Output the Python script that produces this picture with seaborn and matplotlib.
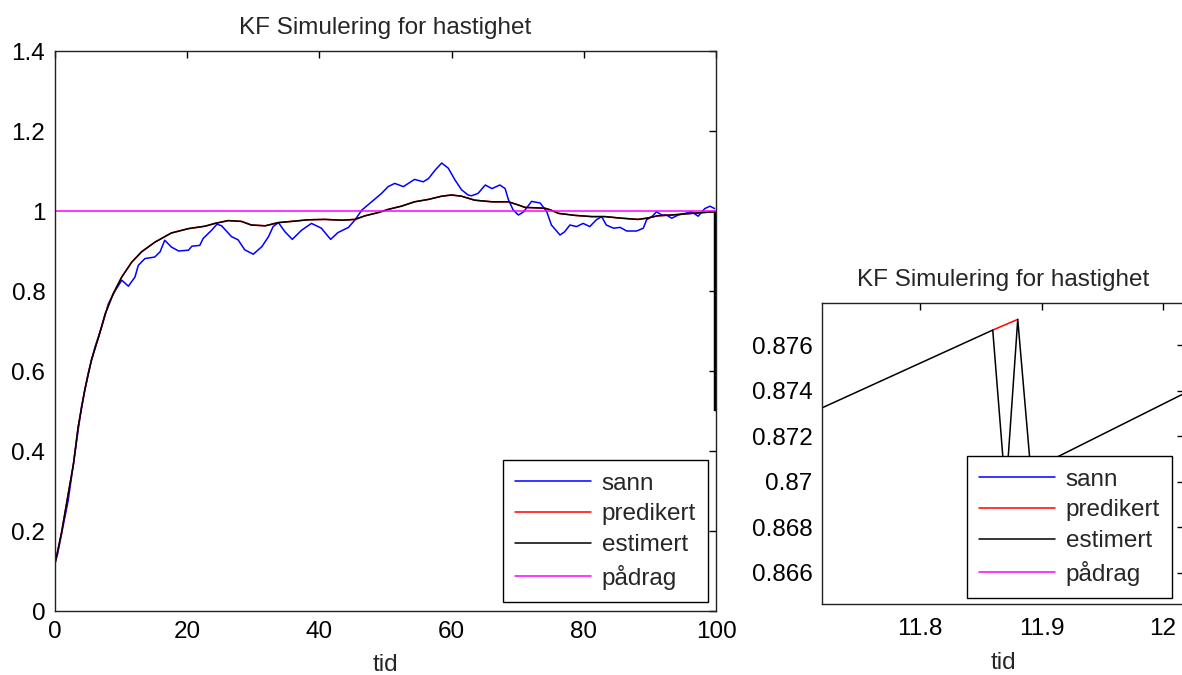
import numpy as np
import pandas as pd
import matplotlib
matplotlib.use("Agg")
import matplotlib.pyplot as plt
import seaborn as sns

# ---------------- data ----------------
# true velocity (sann)
t_sann = [0.0, 0.4, 2.0, 3.0, 4.0, 5.0, 6.05, 7.06, 8.07, 9.08, 10.1, 11.1, 12.1, 12.6,
          13.6, 15.1, 15.9, 16.6, 17.6, 18.7, 20.2, 20.7, 21.9, 22.4, 23.7, 24.5, 25.2,
          26.7, 27.7, 28.7, 30.0, 31.3, 32.3, 33.0, 33.8, 34.8, 35.9, 37.3, 38.8, 40.3,
          41.7, 42.8, 44.4, 45.4, 46.4, 47.9, 49.4, 50.4, 51.4, 52.7, 54.4, 55.7, 56.5,
          57.5, 58.5, 59.5, 60.5, 61.5, 62.5, 63.0, 64.0, 65.1, 66.1, 67.3, 68.1, 68.6,
          69.3, 70.1, 70.9, 72.1, 73.4, 74.4, 75.1, 76.4, 77.1, 77.9, 78.9, 79.9, 80.9,
          81.9, 82.7, 83.4, 84.5, 85.5, 86.5, 88.0, 89.0, 89.5, 90.3, 91.0, 91.8, 92.5,
          93.3, 94.3, 95.3, 96.3, 97.3, 98.3, 99.1, 99.8]
v_sann = [0.12, 0.143, 0.277, 0.393, 0.51, 0.593, 0.66, 0.71, 0.768, 0.80, 0.827, 0.812,
          0.835, 0.864, 0.881, 0.885, 0.898, 0.927, 0.91, 0.90, 0.902, 0.912, 0.914, 0.931,
          0.952, 0.967, 0.963, 0.936, 0.928, 0.903, 0.892, 0.911, 0.936, 0.961, 0.971,
          0.948, 0.929, 0.952, 0.969, 0.957, 0.929, 0.946, 0.959, 0.978, 1.002, 1.023,
          1.044, 1.061, 1.069, 1.061, 1.079, 1.073, 1.081, 1.102, 1.12, 1.107, 1.078,
          1.053, 1.040, 1.038, 1.044, 1.065, 1.056, 1.065, 1.056, 1.028, 1.003, 0.99,
          0.998, 1.024, 1.02, 0.998, 0.965, 0.940, 0.948, 0.965, 0.961, 0.969, 0.961,
          0.978, 0.986, 0.965, 0.957, 0.959, 0.95, 0.95, 0.957, 0.978, 0.986, 0.998,
          0.99, 0.99, 0.982, 0.99, 0.994, 0.998, 0.987, 1.006, 1.012, 1.006]

# estimated velocity (estimert)
t_est = [0.0, 1.0, 2.0, 2.8, 3.5, 4.5, 5.5, 6.6, 7.6, 8.8, 10.1, 11.6, 13.1, 15.1, 17.6,
         20.2, 22.7, 24.2, 26.2, 28.2, 29.7, 31.8, 33.8, 35.8, 38.3, 40.8, 43.4, 45.4,
         46.9, 48.9, 50.4, 52.4, 54.4, 56.5, 58.5, 60.0, 61.5, 63.5, 66.1, 68.6, 70.1,
         71.1, 74.1, 74.9, 76.2, 78.7, 81.2, 83.2, 85.7, 88.2, 89.5, 91.2, 93.3, 96.3,
         99.6, 100.0, 100.0]
v_est = [0.118, 0.197, 0.293, 0.368, 0.46, 0.552, 0.627, 0.685, 0.743, 0.793, 0.835,
         0.872, 0.898, 0.922, 0.945, 0.956, 0.962, 0.969, 0.976, 0.974, 0.965, 0.963,
         0.971, 0.974, 0.978, 0.979, 0.977, 0.979, 0.988, 0.996, 1.004, 1.012, 1.023,
         1.029, 1.037, 1.040, 1.037, 1.027, 1.023, 1.023, 1.015, 1.009, 1.007, 1.003,
         0.994, 0.989, 0.986, 0.986, 0.982, 0.979, 0.982, 0.988, 0.990, 0.994, 0.998,
         0.998, 0.50]

# predicted velocity (predikert) - almost identical to the estimate at full scale
t_pred = t_est[:-1]
v_pred = v_est[:-1]

# control input (pådrag)
t_u = [0.0, 100.0]
v_u = [1.0, 1.0]

# zoomed view around t = 11.8 - 12
t_est_z = [11.719, 11.8597, 11.8704, 11.8803, 11.891, 12.0173]
v_est_z = [0.87324, 0.87666, 0.8695, 0.87713, 0.8705, 0.87387]
t_pred_z = [11.8597, 11.8803]
v_pred_z = [0.87666, 0.87713]

labels = ["sann", "predikert", "estimert", "pådrag"]
colors = ["#0000ff", "#ff0000", "#000000", "#ff00ff"]

# ---------------- styling ----------------
sns.set_style("white")
plt.rcParams["font.family"] = ["Liberation Sans", "DejaVu Sans"]
plt.rcParams["axes.edgecolor"] = "black"
plt.rcParams["axes.linewidth"] = 1.0

fig = plt.figure(figsize=(11.82, 6.75), dpi=100)
ax1 = fig.add_axes([55 / 1182, (675 - 611) / 675, 661 / 1182, 560 / 675])
ax2 = fig.add_axes([822 / 1182, (675 - 604) / 675, 362 / 1182, 301 / 675])

def draw(ax, series, widths):
    for (t, v), lab, col, lw in zip(series, labels, colors, widths):
        if t is None:
            ax.plot([], [], color=col, lw=1.1, label=lab)
            continue
        sns.lineplot(x=t, y=v, ax=ax, color=col, lw=lw, label=lab,
                     estimator=None, sort=False)

draw(ax1, [(t_sann, v_sann), (t_pred, v_pred), (t_est, v_est), (t_u, v_u)],
     [1.2, 0.6, 1.3, 1.2])
draw(ax2, [(None, None), (t_pred_z, v_pred_z), (t_est_z, v_est_z), (None, None)],
     [1.1, 1.1, 1.1, 1.1])
# the final drop of the estimate is over-drawn (thick) in the reference
ax1.plot(t_est[-2:], v_est[-2:], color="black", lw=3.2, solid_capstyle="butt")

fs = 17.5
for ax in (ax1, ax2):
    ax.tick_params(direction="in", top=True, right=True, length=5, width=1,
                   labelsize=fs, colors="black", pad=7)
    ax.set_title("KF Simulering for hastighet", fontsize=17.5, pad=12)
    ax.set_ylabel("")
    for s in ax.spines.values():
        s.set_color("#222222")
ax1.set_xlabel("tid", fontsize=fs, labelpad=8)
ax2.set_xlabel("tid", fontsize=fs, labelpad=9)

ax1.set_xlim(0, 100)
ax1.set_ylim(0, 1.4)
ax1.set_xticks([0, 20, 40, 60, 80, 100])
ax1.set_yticks([0, 0.2, 0.4, 0.6, 0.8, 1, 1.2, 1.4])
ax1.set_yticklabels(["0", "0.2", "0.4", "0.6", "0.8", "1", "1.2", "1.4"])

ax2.set_xlim(11.719, 12.0173)
ax2.set_ylim(0.86462, 0.87785)
ax2.set_xticks([11.8, 11.9, 12.0])
ax2.set_xticklabels(["11.8", "11.9", "12"])
ax2.set_yticks([0.866, 0.868, 0.870, 0.872, 0.874, 0.876])
ax2.set_yticklabels(["0.866", "0.868", "0.87", "0.872", "0.874", "0.876"])
ax2.tick_params(axis="x", pad=10)

leg_kw = dict(fontsize=fs, handlelength=3.15, frameon=True, fancybox=False,
              edgecolor="black", framealpha=1, borderpad=0.5, labelspacing=0.36,
              handletextpad=0.42, borderaxespad=0.0)
h1, l1 = ax1.get_legend_handles_labels()
h1, l1 = h1[:4], l1[:4]
for h in h1:
    h.set_linewidth(1.1)
ax1.legend(h1, l1, loc="lower right",
           bbox_to_anchor=(708 / 1182, (675 - 602) / 675),
           bbox_transform=fig.transFigure, **leg_kw).get_frame().set_linewidth(1.0)
h2, l2 = ax2.get_legend_handles_labels()
ax2.legend(h2, l2, loc="lower right",
           bbox_to_anchor=(1172 / 1182, (675 - 598) / 675),
           bbox_transform=fig.transFigure, **leg_kw).get_frame().set_linewidth(1.0)

fig.savefig("out.png", dpi=100)
